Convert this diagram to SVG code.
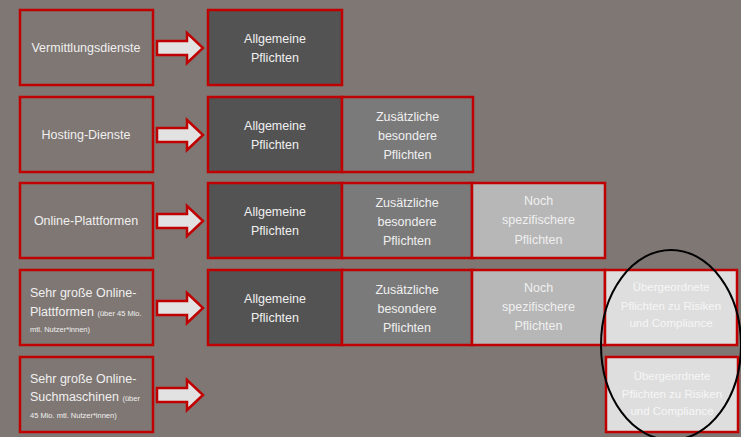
<svg xmlns="http://www.w3.org/2000/svg" width="741" height="437" viewBox="0 0 741 437">
<defs>
<style>
.bg{fill:#7f7773}
.box{stroke:#c00000;stroke-width:2.5}
.src{fill:none}
.d1{fill:#535353}
.d2{fill:#7a7a7a}
.d3{fill:#b7b7b7}
.d4{fill:#dedede}
.arrow{fill:#e2e2e2;stroke:#c00000;stroke-width:2.5;stroke-linejoin:miter}
text{font-family:"Liberation Sans",Arial,sans-serif;font-size:12.5px;fill:#f0f0f0}
.c{text-anchor:middle}
.s{font-size:7.5px}
.w{fill:#f6f6f6}
</style>
</defs>
<rect class="bg" x="0" y="0" width="741" height="437"/>

<g id="row1-source"><rect class="box src" x="20" y="10" width="133" height="75"/><text class="c" x="86" y="52">Vermittlungsdienste</text></g>
<g id="row1-allgemeine"><rect class="box d1" x="208" y="10" width="134" height="75"/><text class="c" x="275" y="42.5">Allgemeine</text><text class="c" x="275" y="61.5">Pflichten</text></g>

<g id="row2-source"><rect class="box src" x="20" y="97" width="133" height="75"/><text class="c" x="86" y="139">Hosting-Dienste</text></g>
<g id="row2-allgemeine"><rect class="box d1" x="208" y="97" width="134" height="75"/><text class="c" x="275" y="129.5">Allgemeine</text><text class="c" x="275" y="148.5">Pflichten</text></g>
<g id="row2-zusaetzlich"><rect class="box d2" x="342" y="97" width="131" height="75"/><text class="c" x="407.5" y="120.5">Zusätzliche</text><text class="c" x="407.5" y="139.5">besondere</text><text class="c" x="407.5" y="158.5">Pflichten</text></g>

<g id="row3-source"><rect class="box src" x="20" y="183" width="133" height="75"/><text class="c" x="86" y="225">Online-Plattformen</text></g>
<g id="row3-allgemeine"><rect class="box d1" x="208" y="183" width="134" height="75"/><text class="c" x="275" y="216">Allgemeine</text><text class="c" x="275" y="235">Pflichten</text></g>
<g id="row3-zusaetzlich"><rect class="box d2" x="342" y="183" width="130" height="75"/><text class="c" x="407" y="206.5">Zusätzliche</text><text class="c" x="407" y="225.5">besondere</text><text class="c" x="407" y="244.5">Pflichten</text></g>
<g id="row3-spezifisch"><rect class="box d3" x="472" y="183" width="133" height="75"/><text class="c" x="538.5" y="204.5">Noch</text><text class="c" x="538.5" y="223.5">spezifischere</text><text class="c" x="538.5" y="243.5">Pflichten</text></g>

<g id="row4-source"><rect class="box src" x="20" y="270" width="133" height="75"/><text x="30" y="297">Sehr große Online-</text><text x="30" y="315.5">Plattformen <tspan class="s">(über 45 Mio.</tspan></text><text class="s" x="30" y="332">mtl. Nutzer*innen)</text></g>
<g id="row4-allgemeine"><rect class="box d1" x="208" y="270" width="134" height="75"/><text class="c" x="275" y="303">Allgemeine</text><text class="c" x="275" y="322">Pflichten</text></g>
<g id="row4-zusaetzlich"><rect class="box d2" x="342" y="270" width="130" height="75"/><text class="c" x="407" y="293.5">Zusätzliche</text><text class="c" x="407" y="312.5">besondere</text><text class="c" x="407" y="331.5">Pflichten</text></g>
<g id="row4-spezifisch"><rect class="box d3" x="472" y="270" width="133" height="75"/><text class="c" x="538.5" y="291.5">Noch</text><text class="c" x="538.5" y="310.5">spezifischere</text><text class="c" x="538.5" y="330">Pflichten</text></g>
<g id="row4-uebergeordnet"><rect class="box d4" x="605" y="270" width="132" height="75"/><text class="c w" x="671" y="291" style="font-size:11.5px">Übergeordnete</text><text class="c w" x="671" y="309.5" style="font-size:11.5px">Pflichten zu Risiken</text><text class="c w" x="671" y="327" style="font-size:11.5px">und Compliance</text></g>

<g id="row5-source"><rect class="box src" x="20" y="357" width="133" height="75"/><text x="30" y="382.5">Sehr große Online-</text><text x="30" y="401">Suchmaschinen <tspan class="s">(über</tspan></text><text class="s" x="30" y="418">45 Mio. mtl. Nutzer*innen)</text></g>
<g id="row5-uebergeordnet"><rect class="box d4" x="606" y="357" width="132" height="75"/><text class="c w" x="672" y="379.5" style="font-size:11.5px">Übergeordnete</text><text class="c w" x="672" y="397.5" style="font-size:11.5px">Pflichten zu Risiken</text><text class="c w" x="672" y="415" style="font-size:11.5px">und Compliance</text></g>

<g id="connectors">
<path class="arrow" d="M157,41 H187 V33 L203,48 L187,63 V55 H157 Z"/>
<path class="arrow" d="M157,128 H187 V120 L203,135 L187,150 V142 H157 Z"/>
<path class="arrow" d="M157,214 H187 V206 L203,221 L187,236 V228 H157 Z"/>
<path class="arrow" d="M157,301 H187 V293 L203,308 L187,323 V315 H157 Z"/>
<path class="arrow" d="M157,388 H187 V380 L203,395 L187,410 V402 H157 Z"/>
</g>

<g id="highlight"><ellipse cx="671" cy="345" rx="70" ry="95" fill="none" stroke="#000" stroke-width="2"/></g>
</svg>
